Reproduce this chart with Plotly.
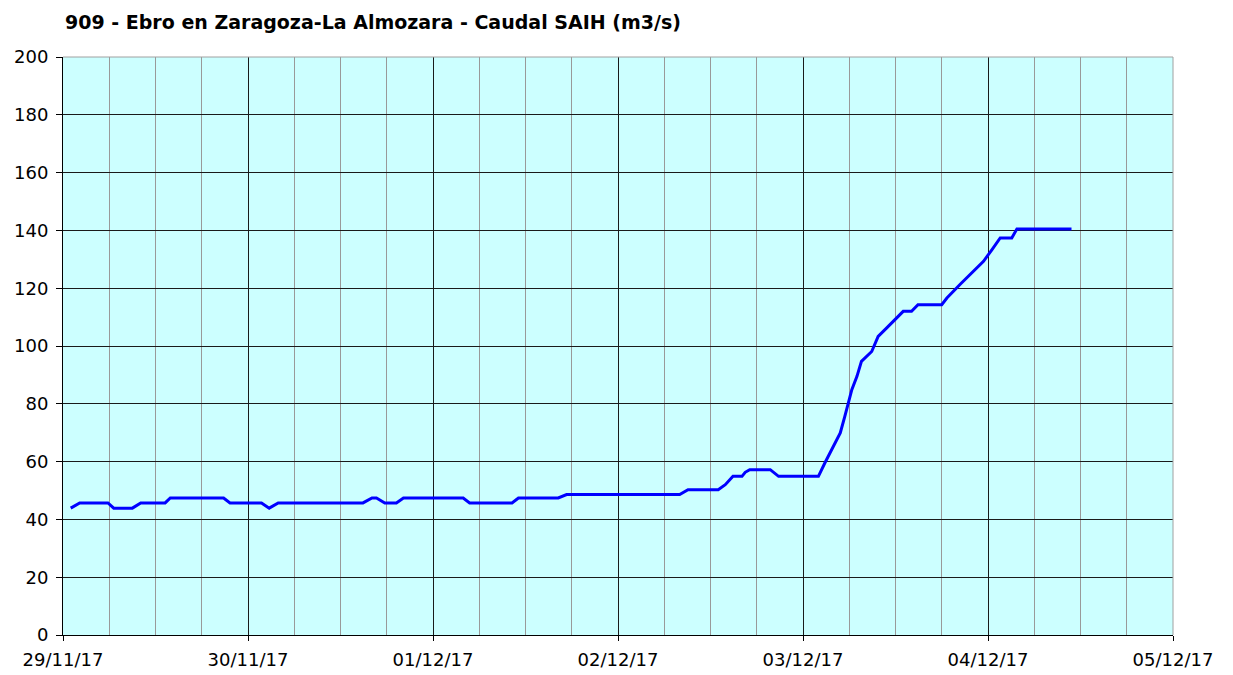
import plotly.graph_objects as go

title_text = "909 - Ebro en Zaragoza-La Almozara - Caudal SAIH (m3/s)"

times = [
    "2017-11-29 01:00", "2017-11-29 02:10", "2017-11-29 05:50", "2017-11-29 06:35",
    "2017-11-29 09:00", "2017-11-29 10:05", "2017-11-29 13:15", "2017-11-29 13:55",
    "2017-11-29 20:50", "2017-11-29 21:40", "2017-11-30 01:45", "2017-11-30 02:45",
    "2017-11-30 03:55", "2017-11-30 14:55", "2017-11-30 16:05", "2017-11-30 16:40",
    "2017-11-30 17:45", "2017-11-30 19:15", "2017-11-30 20:10", "2017-12-01 03:55",
    "2017-12-01 04:45", "2017-12-01 10:15", "2017-12-01 11:05", "2017-12-01 16:15",
    "2017-12-01 17:20", "2017-12-02 08:00", "2017-12-02 09:05", "2017-12-02 13:00",
    "2017-12-02 13:55", "2017-12-02 14:55", "2017-12-02 16:05", "2017-12-02 16:30",
    "2017-12-02 17:05", "2017-12-02 19:45", "2017-12-02 20:50", "2017-12-03 02:00",
    "2017-12-03 02:50", "2017-12-03 03:55", "2017-12-03 04:50", "2017-12-03 05:25",
    "2017-12-03 05:55", "2017-12-03 06:20", "2017-12-03 07:00", "2017-12-03 07:35",
    "2017-12-03 08:55", "2017-12-03 09:45", "2017-12-03 10:50", "2017-12-03 12:20",
    "2017-12-03 13:00", "2017-12-03 14:05", "2017-12-03 14:55", "2017-12-03 18:00",
    "2017-12-03 18:40", "2017-12-03 20:20", "2017-12-03 22:05", "2017-12-03 23:25",
    "2017-12-04 00:30", "2017-12-04 01:35", "2017-12-04 03:05", "2017-12-04 03:45",
    "2017-12-04 10:50",
]
flow = [
    43.9, 45.7, 45.7, 43.9,
    43.9, 45.7, 45.7, 47.4,
    47.4, 45.7, 45.7, 43.9,
    45.7, 45.7, 47.4, 47.4,
    45.7, 45.7, 47.4, 47.4,
    45.7, 45.7, 47.4, 47.4,
    48.6, 48.6, 50.3, 50.3,
    52.0, 54.9, 54.9, 56.3,
    57.2, 57.2, 54.9, 54.9,
    59.5, 65.3, 69.9, 75.6,
    80.3, 84.9, 89.5, 94.7,
    98.1, 103.3, 106.2, 110.2,
    112.0, 112.0, 114.3, 114.3,
    116.6, 121.2, 125.8, 129.3,
    133.3, 137.4, 137.4, 140.5,
    140.5,
]

day_ticks = ["2017-11-29", "2017-11-30", "2017-12-01", "2017-12-02",
             "2017-12-03", "2017-12-04", "2017-12-05"]
day_labels = ["29/11/17", "30/11/17", "01/12/17", "02/12/17",
              "03/12/17", "04/12/17", "05/12/17"]
y_ticks = [0, 20, 40, 60, 80, 100, 120, 140, 160, 180, 200]

# page has an 8px body margin; figure is sized so it fits the 1233x675 window
W, H = 1225, 667

fig = go.Figure()
fig.add_trace(go.Scatter(
    x=times, y=flow, mode="lines",
    line=dict(color="#0000FF", width=3),
    hoverinfo="x+y", showlegend=False,
))

font_family = "DejaVu Sans"

fig.update_layout(
    width=W, height=H,
    margin=dict(l=55, r=60, t=49, b=40, autoexpand=False),
    paper_bgcolor="white",
    plot_bgcolor="#CCFFFF",
    title=dict(
        text="<b>" + title_text + "</b>",
        x=57 / W, xref="container", xanchor="left",
        y=1 - 14 / H, yref="container", yanchor="middle",
        font=dict(family=font_family, size=19, color="black"),
    ),
    xaxis=dict(
        type="date",
        range=[day_ticks[0], day_ticks[-1]],
        tickvals=day_ticks, ticktext=day_labels,
        showgrid=True, gridcolor="#1a1a1a", gridwidth=1,
        minor=dict(dtick=6 * 3600 * 1000, showgrid=True,
                   gridcolor="#999999", gridwidth=1, ticks=""),
        showline=True, linecolor="black", linewidth=1,
        ticks="outside", ticklen=5, tickcolor="black",
        ticklabelstandoff=3,
        tickfont=dict(family=font_family, size=18, color="black"),
        zeroline=False, fixedrange=True, automargin=False,
    ),
    yaxis=dict(
        range=[0, 200], tickvals=y_ticks,
        showgrid=True, gridcolor="#1a1a1a", gridwidth=1,
        showline=True, linecolor="black", linewidth=1,
        ticks="outside", ticklen=6, tickcolor="black",
        ticklabelstandoff=4,
        tickfont=dict(family=font_family, size=18, color="black"),
        zeroline=False, fixedrange=True, automargin=False,
    ),
    shapes=[
        dict(type="line", xref="paper", yref="paper", x0=0, x1=1, y0=1, y1=1,
             line=dict(color="#a0a0a0", width=1), layer="above"),
        dict(type="line", xref="paper", yref="paper", x0=1, x1=1, y0=0, y1=1,
             line=dict(color="#a0a0a0", width=1), layer="above"),
    ],
)

fig.write_html("out.html")
